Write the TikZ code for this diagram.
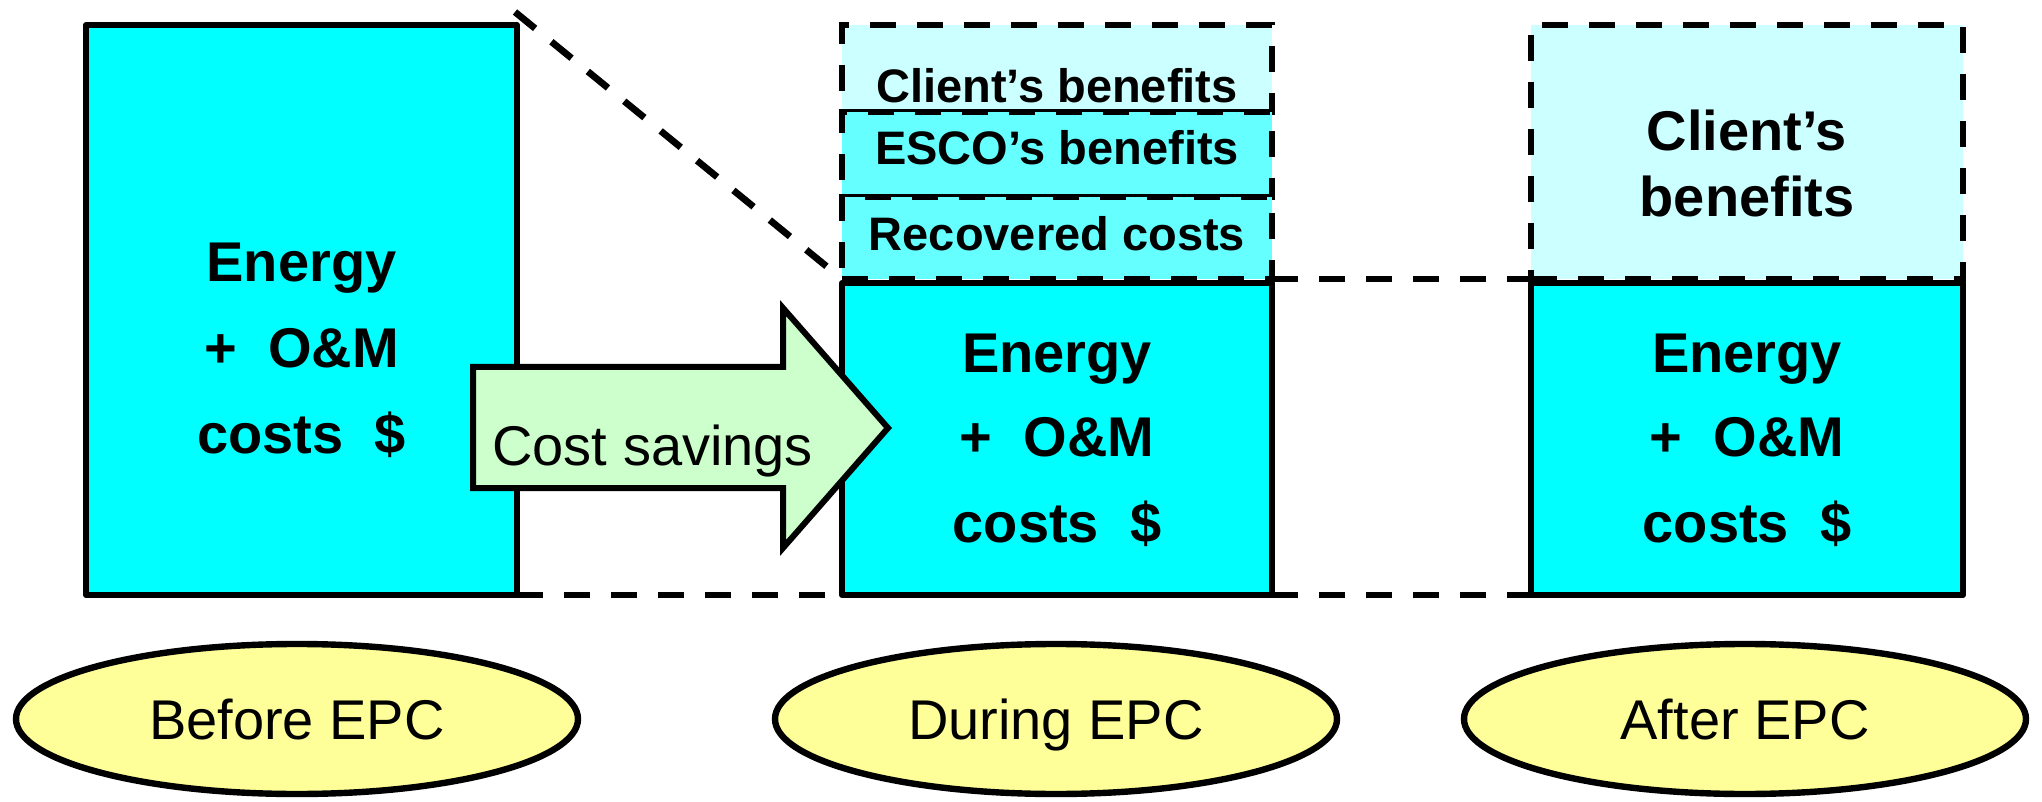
\documentclass[tikz,border=0pt]{standalone}
\usepackage{fontspec}
\setmainfont{Liberation Sans}
\usetikzlibrary{fit,shapes.geometric}
\definecolor{energycol}{HTML}{00FFFF}
\definecolor{clientcol}{HTML}{CCFFFF}
\definecolor{escocol}{HTML}{66FFFF}
\definecolor{savingcol}{HTML}{CCFFCC}
\definecolor{phasecol}{HTML}{FFFF99}
\begin{document}
\begin{tikzpicture}[x=0.5pt,y=-0.5pt,
  solidbox/.style={draw=black,line width=3pt,fill=energycol,inner sep=0pt,outer sep=0pt,line join=round},
  dashbox/.style={draw=black,line width=3.4pt,inner sep=0pt,outer sep=0pt,dash pattern=on 13pt off 10.5pt},
  dashline/.style={draw=black,line width=3.4pt,dash pattern=on 13pt off 10.5pt},
  bigtxt/.style={font=\fontsize{28}{34}\selectfont\bfseries,anchor=base,inner sep=0pt},
  midtxt/.style={font=\fontsize{23.5}{28}\selectfont\bfseries,anchor=base,inner sep=0pt},
  phase/.style={ellipse,draw=black,line width=3.2pt,fill=phasecol,minimum width=281pt,minimum height=75pt,inner sep=0pt,font=\fontsize{28}{34}\selectfont,text height=20pt,text depth=0pt},
  savearrow/.style={draw=black,line width=3pt,fill=savingcol,line join=miter}
]
\useasboundingbox (0,0) rectangle (2042,802);

% Before EPC
\node[solidbox,fit={(86,25) (517,595)}] (before) {};

% During EPC
\node[dashbox,fill=clientcol,fit={(842,25) (1272,112)}] (client) {};
\node[dashbox,fill=escocol,fit={(842,112) (1272,197)}] (esco) {};
\node[dashbox,fill=escocol,fit={(842,197) (1272,279)}] (recov) {};
\node[solidbox,fit={(842,283) (1272,595)}] (during) {};

% After EPC
\node[dashbox,fill=clientcol,fit={(1531,25) (1963,279)}] (afterben) {};
\node[solidbox,fit={(1531,283) (1963,595)}] (after) {};

% dashed guide lines
\coordinate (diagstart) at (515,12);
\draw[dashline] (diagstart) -- (recov.south west);
\draw[dashline] (recov.south east) -- (afterben.south west);
\draw[dashline] (before.south east) -- (during.south west);
\draw[dashline] (during.south east) -- (after.south west);

% cost savings arrow
\draw[savearrow] (473,367) -- (783,367) -- (783,308) -- (888,428) -- (783,548) -- (783,488) -- (473,488) -- cycle;
\node[font=\fontsize{28}{34}\selectfont,anchor=base west,inner sep=0pt] (savings) at (492,466) {Cost savings};

% texts
\node[bigtxt] (b1) at (301.5,282) {Energy};
\node[bigtxt] (b2) at (301.5,368) {+\ \ O\&M};
\node[bigtxt] (b3) at (301.5,453) {costs\ \ \$};

\node[midtxt] (c1) at (1057,103) {Client’s benefits};
\node[midtxt] (c2) at (1057,165) {ESCO’s benefits};
\node[midtxt] (c3) at (1057,251) {Recovered costs};

\node[bigtxt] (d1) at (1057,372) {Energy};
\node[bigtxt] (d2) at (1057,457) {+\ \ O\&M};
\node[bigtxt] (d3) at (1057,542) {costs\ \ \$};

\node[bigtxt] (a0) at (1747,151) {Client’s};
\node[bigtxt] (a00) at (1747,217) {benefits};
\node[bigtxt] (a1) at (1747,372) {Energy};
\node[bigtxt] (a2) at (1747,457) {+\ \ O\&M};
\node[bigtxt] (a3) at (1747,542) {costs\ \ \$};

% phase labels
\node[phase] (pbefore) at (297,719) {Before EPC};
\node[phase] (pduring) at (1056,719) {During EPC};
\node[phase] (pafter) at (1745,719) {After EPC};
\end{tikzpicture}
\end{document}
